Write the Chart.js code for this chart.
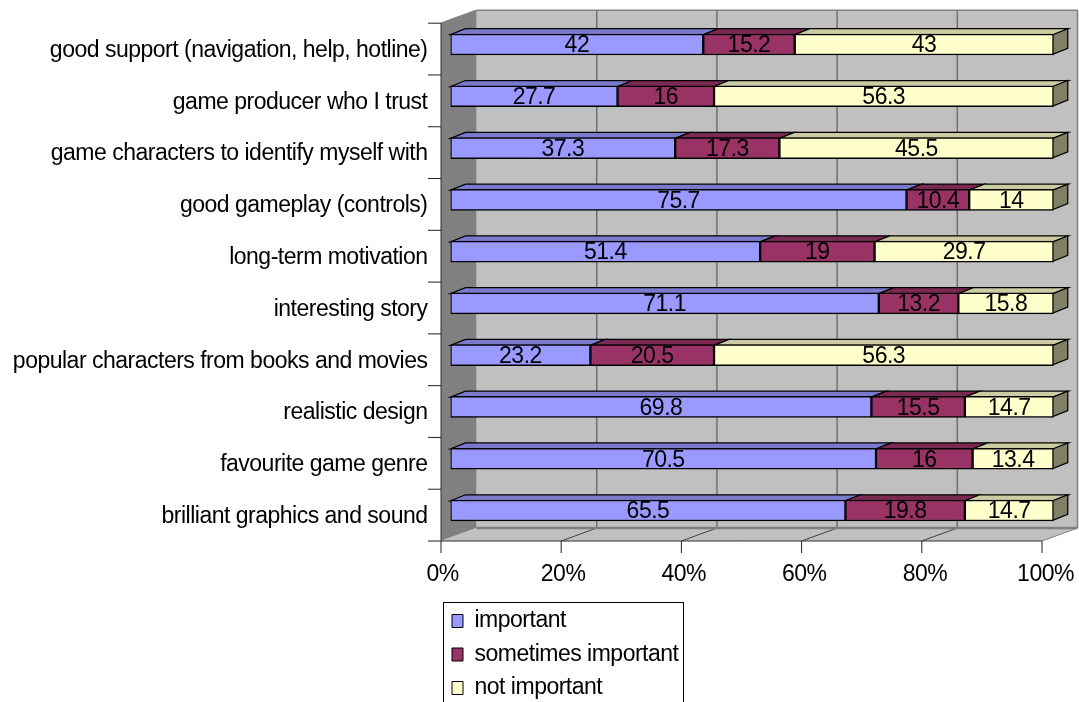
<!DOCTYPE html>
<html>
<head>
<meta charset="utf-8">
<style>html,body{margin:0;padding:0;background:#fff}canvas{display:block}</style>
<script src="https://cdn.jsdelivr.net/npm/chart.js@4/dist/chart.umd.min.js"></script>
</head>
<body>
<canvas id="c" width="1079" height="702"></canvas>
<script>
const categories = [
  "good support (navigation, help, hotline)",
  "game producer who I trust",
  "game characters to identify myself with",
  "good gameplay (controls)",
  "long-term motivation",
  "interesting story",
  "popular characters from books and movies",
  "realistic design",
  "favourite game genre",
  "brilliant graphics and sound"
];
const important = [42, 27.7, 37.3, 75.7, 51.4, 71.1, 23.2, 69.8, 70.5, 65.5];
const sometimesImportant = [15.2, 16, 17.3, 10.4, 19, 13.2, 20.5, 15.5, 16, 19.8];
const notImportant = [43, 56.3, 45.5, 14, 29.7, 15.8, 56.3, 14.7, 13.4, 14.7];
const seriesNames = ["important", "sometimes important", "not important"];
const xTicks = [0, 20, 40, 60, 80, 100];

const rawSeries = [important, sometimesImportant, notImportant];
const share = (s) => s.map((v, i) => v / (important[i] + sometimesImportant[i] + notImportant[i]) * 100);

const FRONT = ["#9999FF", "#993366", "#FFFFCC"];
const TOP = ["#7A7ACC", "#7A2952", "#CCCCA3"];
const SIDE = "#808066";
const DX = 15, DY = -6;          // bar depth
const WX = 35.5, WY = -13;       // wall depth
const FAMILY = '"Liberation Sans", Arial, sans-serif';
const FONT = '23px ' + FAMILY;
const SPACING = "-0.5px";

function poly(ctx, pts, fill, stroke, lw) {
  ctx.beginPath();
  pts.forEach((p, i) => i ? ctx.lineTo(p[0], p[1]) : ctx.moveTo(p[0], p[1]));
  ctx.closePath();
  if (fill) { ctx.fillStyle = fill; ctx.fill(); }
  if (stroke) { ctx.strokeStyle = stroke; ctx.lineWidth = lw; ctx.stroke(); }
}
function line(ctx, x0, y0, x1, y1, c, lw) {
  ctx.beginPath(); ctx.moveTo(x0, y0); ctx.lineTo(x1, y1);
  ctx.strokeStyle = c; ctx.lineWidth = lw; ctx.stroke();
}

const threeD = {
  id: "threeD",
  beforeDraw(chart) { chart.ctx.letterSpacing = SPACING; },
  afterLayout(chart) {
    const l = chart.legend;
    l.left = 441.5; l.top = 599; l.right = l.left + l.width; l.bottom = l.top + l.height;
  },
  beforeDatasetsDraw(chart) {
    const ctx = chart.ctx, xs = chart.scales.x, ys = chart.scales.y;
    const band = ys.getPixelForValue(1) - ys.getPixelForValue(0);
    const ax = (v) => 441 + (xs.getPixelForValue(v) - xs.left) * 601 / xs.width;
    const ay = (i) => ys.getPixelForValue(i) - band / 2 + 4.6;
    const y0 = ay(0), yN = ay(categories.length), xL = ax(0), xR = ax(100);
    ctx.save();
    // back wall, side wall, floor
    poly(ctx, [[xL + WX, y0 + WY], [xR + WX, y0 + WY], [xR + WX, yN + WY], [xL + WX, yN + WY]], "#C0C0C0");
    poly(ctx, [[xL, y0], [xL + WX, y0 + WY], [xL + WX, yN + WY], [xL, yN]], "#808080");
    poly(ctx, [[xL, yN], [xL + WX, yN + WY], [xR + WX, yN + WY], [xR, yN]], "#C0C0C0");
    // gridlines on back wall and floor
    xTicks.forEach((v) => {
      const x = ax(v);
      if (v > 0 && v < 100) line(ctx, x + WX, y0 + WY, x + WX, yN + WY, "#707070", 1.5);
      if (v > 0) line(ctx, x, yN, x + WX, yN + WY, v < 100 ? "#404040" : "#808080", 1);
      line(ctx, x, yN, x, yN + 12, "#202020", 1);
    });
    line(ctx, xL + WX, y0 + WY, xR + WX, y0 + WY, "#808080", 1.5);
    line(ctx, xR + WX, y0 + WY, xR + WX, yN + WY, "#808080", 1.5);
    line(ctx, xL + WX, yN + WY, xR + WX, yN + WY, "#808080", 2.5);
    line(ctx, xL, y0, xL + WX, y0 + WY, "#808080", 1.5);
    // category axis and tick marks
    line(ctx, xL, y0, xL, yN, "#303030", 1);
    line(ctx, xL, yN, xR, yN, "#303030", 1);
    for (let i = 0; i <= categories.length; i++) line(ctx, 428, ay(i), xL, ay(i), "#202020", 1);
    // bar depth faces
    const n = chart.data.datasets.length;
    for (let d = 0; d < n; d++) {
      chart.getDatasetMeta(d).data.forEach((b) => {
        const t = b.y - b.height / 2 + 0.75, bt = b.y + b.height / 2 - 0.75;
        poly(ctx, [[b.base, t], [b.x, t], [b.x + DX, t + DY], [b.base + DX, t + DY]], TOP[d], "#000", 1.25);
        if (d === n - 1) {
          poly(ctx, [[b.x - 0.75, t], [b.x + DX - 0.75, t + DY], [b.x + DX - 0.75, bt + DY], [b.x - 0.75, bt]], SIDE, "#000", 1.25);
        }
      });
    }
    ctx.restore();
  },
  afterDatasetsDraw(chart) {
    const ctx = chart.ctx;
    ctx.save();
    ctx.font = FONT; ctx.fillStyle = "#000"; ctx.textAlign = "center"; ctx.textBaseline = "middle";
    rawSeries.forEach((s, d) => {
      chart.getDatasetMeta(d).data.forEach((b, i) => {
        ctx.fillText(String(s[i]), (b.base + b.x) / 2, b.y + 1.5);
      });
    });
    ctx.restore();
  },
  afterDraw(chart) {
    const ctx = chart.ctx;
    ctx.save();
    ctx.strokeStyle = "#000"; ctx.lineWidth = 1;
    ctx.strokeRect(443.5, 602.5, 240, 130);
    ctx.restore();
  }
};

new Chart(document.getElementById("c"), {
  type: "bar",
  data: {
    labels: categories,
    datasets: rawSeries.map((s, d) => ({
      label: seriesNames[d],
      data: share(s),
      backgroundColor: FRONT[d],
      borderColor: "#000",
      borderWidth: 1.5,
      borderSkipped: false,
      barThickness: 21,
      stack: "s"
    }))
  },
  options: {
    indexAxis: "y",
    responsive: false,
    animation: false,
    layout: { padding: { top: 18.6, right: 25.5, bottom: 0, left: 0 } },
    scales: {
      x: {
        stacked: true, min: 0, max: 100,
        afterFit(s) { s.height = 165.6; s.paddingLeft = 0; s.paddingRight = 0; },
        afterBuildTicks(s) { s.ticks = xTicks.map((v) => ({ value: v })); },
        grid: { display: false, drawTicks: false },
        border: { display: false },
        ticks: {
          callback: (v) => v + "%",
          color: "#000",
          font: { family: FAMILY, size: 23 },
          labelOffset: -8, padding: 24, maxRotation: 0, autoSkip: false
        }
      },
      y: {
        stacked: true,
        afterFit(s) { s.width = 450.5; s.paddingTop = 0; s.paddingBottom = 0; },
        grid: { display: false, drawTicks: false },
        border: { display: false },
        ticks: {
          color: "#000",
          font: { family: FAMILY, size: 23 },
          labelOffset: 6, padding: 23, autoSkip: false
        }
      }
    },
    plugins: {
      tooltip: { enabled: false },
      legend: {
        position: "chartArea",
        align: "start",
        labels: {
          color: "#000",
          font: { family: FAMILY, size: 23 },
          boxWidth: 11, boxHeight: 13, padding: 10.5,
          generateLabels: () => seriesNames.map((t, i) => ({
            text: t, fillStyle: FRONT[i], strokeStyle: "#000", lineWidth: 1, datasetIndex: i, hidden: false
          }))
        }
      }
    }
  },
  plugins: [threeD]
});
</script>
</body>
</html>
